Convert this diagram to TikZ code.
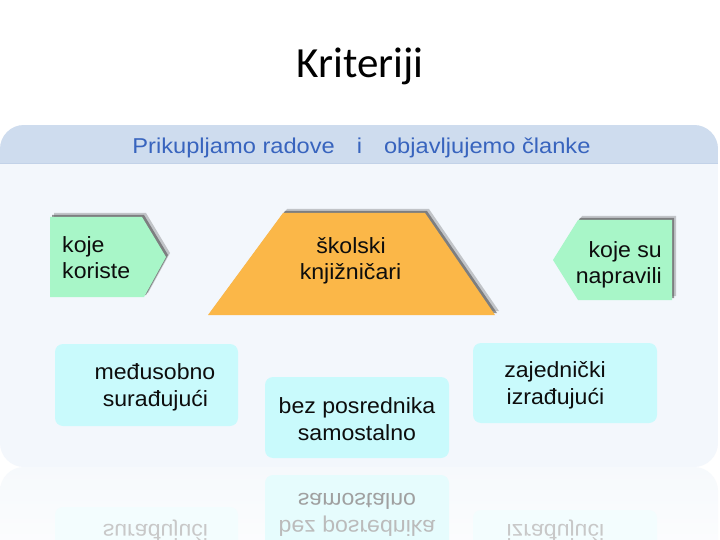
\documentclass[tikz,border=0pt]{standalone}
\usepackage{fontspec}
\setmainfont{Liberation Sans}
\newfontfamily\titlefont{Carlito}
\newfontfamily\bodyfont[FakeStretch=1.05]{Liberation Sans}
\newfontfamily\headfont[FakeStretch=1.1]{Liberation Sans}
\definecolor{bandblue}{HTML}{CEDCEE}
\definecolor{bandline}{HTML}{C2D2E8}
\definecolor{panelbg}{HTML}{F3F7FC}
\definecolor{headtext}{HTML}{3864BE}
\definecolor{mint}{HTML}{A8F6C8}
\definecolor{orangeT}{HTML}{FBB748}
\definecolor{cyanbox}{HTML}{C9FAFC}
\definecolor{shadowgray}{HTML}{505050}
\definecolor{reflpanel}{HTML}{F6F9FC}
\definecolor{reflcyanA}{HTML}{E6FCFD}
\definecolor{reflcyanB}{HTML}{F3FDFE}
\definecolor{reflgrayA}{HTML}{A0A0A0}
\definecolor{reflgrayB}{HTML}{BBBBBB}
\definecolor{reflgrayC}{HTML}{C8C8C8}
\begin{document}
\begin{tikzpicture}[x=1pt,y=-1pt,
  lbl/.style={font=\bodyfont\fontsize{22}{26}\selectfont, text=black!95, inner sep=0pt, anchor=base},
  cbox/.style={fill=cyanbox, rounded corners=8pt, inner sep=0pt},
  shadowA/.style={fill=shadowgray, fill opacity=0.30},
  shadowB/.style={fill=shadowgray, fill opacity=0.60}]
\useasboundingbox (0,0) rectangle (720,540);
\fill[white] (0,0) rectangle (720,540);

% title
\node[font=\titlefont\fontsize{43}{50}\selectfont, anchor=base, inner sep=0pt] (title) at (360,78) {Kriteriji};

% panel
\begin{scope}
  \clip[rounded corners=24pt] (0,125) rectangle (718,467);
  \fill[panelbg] (0,125) rectangle (718,467);
  \fill[bandblue] (0,125) rectangle (718,164);
  \draw[bandline, line width=1pt] (0,164) -- (718,164);
\end{scope}
\node[font=\headfont\fontsize{21.5}{26}\selectfont, text=headtext, anchor=base, inner sep=0pt] (head) at (361.5,154)
  {Prikupljamo radove\hspace{22pt}i\hspace{22pt}objavljujemo članke};

% left pentagon
\fill[shadowA, xshift=4pt, yshift=4pt] (50,217) -- (142,217) -- (166,257) -- (144,297) -- (50,297) -- cycle;
\fill[shadowB, xshift=2pt, yshift=2pt] (50,217) -- (142,217) -- (166,257) -- (144,297) -- (50,297) -- cycle;
\fill[mint] (50,217) -- (142,217) -- (166,257) -- (144,297) -- (50,297) -- cycle;
\node[lbl, anchor=base west] (k1a) at (62,252) {koje};
\node[lbl, anchor=base west] (k1b) at (62,278) {koriste};

% trapezoid
\fill[shadowA, xshift=4pt, yshift=4pt] (283,213) -- (425,213) -- (495,315) -- (208,315) -- cycle;
\fill[shadowB, xshift=2pt, yshift=2pt] (283,213) -- (425,213) -- (495,315) -- (208,315) -- cycle;
\fill[orangeT] (283,213) -- (425,213) -- (495,315) -- (208,315) -- cycle;
\node[lbl] (s1) at (351,253) {školski};
\node[lbl] (s2) at (350.5,279) {knjižničari};

% right pentagon
\fill[shadowA, xshift=4pt, yshift=4pt] (553,260) -- (578,220) -- (672,220) -- (672,300) -- (578,300) -- cycle;
\fill[shadowB, xshift=2pt, yshift=2pt] (553,260) -- (578,220) -- (672,220) -- (672,300) -- (578,300) -- cycle;
\fill[mint] (553,260) -- (578,220) -- (672,220) -- (672,300) -- (578,300) -- cycle;
\node[lbl, anchor=base east] (k2a) at (662,257) {koje su};
\node[lbl, anchor=base east] (k2b) at (662,283) {napravili};

% cyan boxes
\node[cbox, minimum width=183pt, minimum height=82pt] (b1) at (146.5,385) {};
\node[cbox, minimum width=184pt, minimum height=81pt] (b2) at (357,417.5) {};
\node[cbox, minimum width=184pt, minimum height=80pt] (b3) at (565,383) {};
\node[lbl] (b1a) at (155,379) {međusobno};
\node[lbl] (b1b) at (155.5,406) {surađujući};
\node[lbl] (b2a) at (357,413) {bez posrednika};
\node[lbl] (b2b) at (357,440) {samostalno};
\node[lbl] (b3a) at (555,377) {zajednički};
\node[lbl] (b3b) at (555.5,404) {izrađujući};

% reflection
\begin{scope}
  \clip (0,467) rectangle (720,540);
  \shade[top color=reflpanel, bottom color=white, rounded corners=24pt] (0,467) rectangle (718,600);
  \begin{scope}[shift={(0,933)}, yscale=-1, transform shape]
    \node[cbox, fill=reflcyanB, minimum width=183pt, minimum height=82pt] (rb1) at (146.5,385) {};
    \node[cbox, fill=reflcyanA, minimum width=184pt, minimum height=81pt] (rb2) at (357,417.5) {};
    \node[cbox, fill=reflcyanB, minimum width=184pt, minimum height=80pt] (rb3) at (565,383) {};
    \node[lbl, text=reflgrayC] (rb1b) at (155.5,409) {surađujući};
    \node[lbl, text=reflgrayB] (rb2a) at (357,413) {bez posrednika};
    \node[lbl, text=reflgrayA] (rb2b) at (357,440) {samostalno};
    \node[lbl, text=reflgrayC] (rb3b) at (555.5,409) {izrađujući};
  \end{scope}
\end{scope}
\end{tikzpicture}
\end{document}
